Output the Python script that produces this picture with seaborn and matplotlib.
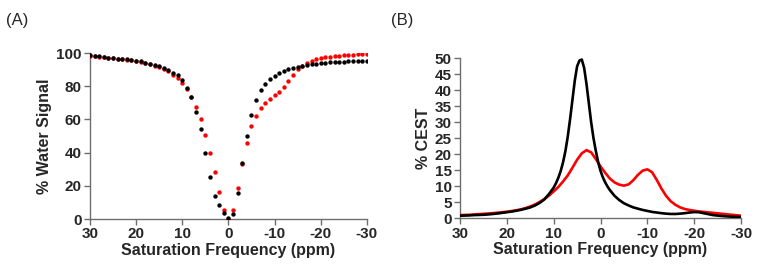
import pandas as pd
import matplotlib.pyplot as plt
import seaborn as sns

# --- DATA ---
# (A) Z-spectra: % water signal vs saturation frequency (ppm), 1 ppm steps
freq_a = list(range(30, -31, -1))
water_black = [98.6, 98.0, 98.0, 97.6, 97.2, 97.0, 96.6, 96.6, 96.2, 96.0,
               95.2, 95.0, 94.2, 93.6, 92.8, 92.0, 91.0, 89.6, 88.0, 86.6,
               83.6, 78.8, 73.2, 64.5, 54.0, 40.0, 25.5, 13.8, 8.4, 3.4,
               0.4,
               3.0, 15.4, 33.5, 49.9, 62.9, 71.9, 77.6, 81.6, 84.4, 86.4,
               88.0, 89.3, 90.3, 91.1, 91.7, 92.2, 92.7, 93.1, 93.5, 93.8,
               94.1, 94.3, 94.5, 94.7, 94.8, 94.9, 95.0, 95.1, 95.1, 95.2]
water_red = [98.2, 97.9, 97.7, 97.4, 97.1, 96.9, 96.6, 96.4, 96.0, 95.6,
             95.0, 94.6, 93.9, 93.2, 92.4, 91.5, 90.3, 89.0, 87.0, 85.2,
             82.0, 78.4, 73.5, 67.5, 60.5, 50.9, 39.9, 28.5, 16.0, 5.6,
             0.3,
             5.6, 18.8, 33.0, 45.9, 55.9, 62.1, 67.1, 69.9, 72.1, 74.5,
             76.8, 79.6, 83.2, 86.8, 90.2, 92.2, 94.0, 95.4, 96.2, 96.8,
             97.3, 97.7, 98.0, 98.3, 98.6, 98.8, 99.0, 99.2, 99.3, 99.4]

# (B) CEST spectra (% CEST)
freq_b_black = [30, 29, 28, 27, 26, 25, 24, 23, 22, 21, 20, 19, 18, 17, 16,
                15, 14, 13, 12, 11, 10, 9.5, 9, 8.5, 8, 7.5, 7, 6.5, 6, 5.5,
                5, 4.5, 4, 3.5, 3, 2.5, 2, 1.5, 1, 0.5, 0, -0.5, -1, -1.5,
                -2, -3, -4, -5, -6, -7, -8, -9, -10, -11, -12, -13, -14,
                -15, -16, -17, -18, -19, -20, -21, -22, -23, -24, -25, -26,
                -27, -28, -29, -30]
cest_black = [0.8, 0.85, 0.9, 1.0, 1.05, 1.1, 1.2, 1.35, 1.5, 1.7, 1.9, 2.1,
              2.35, 2.65, 3.0, 3.4, 4.0, 4.8, 5.9, 7.6, 9.6, 11.0, 12.7,
              14.8, 17.5, 21.0, 25.5, 31.0, 37.0, 43.0, 47.5, 49.3, 49.6,
              47.0, 42.0, 36.0, 30.0, 25.0, 21.0, 17.5, 14.8, 12.8, 11.2,
              9.9, 8.8, 7.0, 5.7, 4.7, 4.0, 3.4, 3.0, 2.6, 2.3, 2.0, 1.8,
              1.6, 1.45, 1.35, 1.35, 1.45, 1.6, 1.8, 1.95, 1.9, 1.6, 1.3,
              1.0, 0.85, 0.7, 0.6, 0.5, 0.45, 0.4]
freq_b_red = list(range(30, -31, -1))
cest_red = [1.0, 1.05, 1.1, 1.2, 1.3, 1.4, 1.5, 1.6, 1.75, 1.9, 2.05, 2.25,
            2.5, 2.8, 3.2, 3.7, 4.3, 5.1, 6.0, 7.1, 8.4, 9.8, 11.5, 13.4,
            15.8, 18.3, 20.3, 21.3, 20.6, 18.5, 16.2, 14.2, 12.4, 11.2,
            10.5, 10.2, 10.6, 11.9, 13.6, 14.9, 15.3, 14.4, 12.0, 9.3, 7.0,
            5.3, 4.2, 3.4, 2.9, 2.6, 2.35, 2.15, 2.0, 1.85, 1.7, 1.55, 1.4,
            1.25, 1.1, 0.95, 0.8]

x_ticks = [30, 20, 10, 0, -10, -20, -30]

df_a = pd.DataFrame({'freq': freq_a, 'black': water_black, 'red': water_red})
df_b_black = pd.DataFrame({'freq': freq_b_black, 'cest': cest_black})
df_b_red = pd.DataFrame({'freq': freq_b_red, 'cest': cest_red})

# --- STYLE ---
sns.set_theme(style="white")
plt.rcParams['font.family'] = ['Liberation Sans', 'DejaVu Sans']
plt.rcParams['axes.unicode_minus'] = False

fig = plt.figure(figsize=(7.62, 2.79), dpi=100)
ax1 = fig.add_axes([0.118, 0.215, 0.3635, 0.595])
ax2 = fig.add_axes([0.6037, 0.2176, 0.3688, 0.5735])

# --- (A) ---
sns.scatterplot(data=df_a, x='freq', y='red', ax=ax1, color='#ff0000',
                s=10, linewidth=0, zorder=3)
sns.scatterplot(data=df_a, x='freq', y='black', ax=ax1, color='black',
                s=10, linewidth=0, zorder=4)
ax1.set_ylim(0, 100)
ax1.set_yticks([0, 20, 40, 60, 80, 100])
ax1.set_ylabel('% Water Signal', fontsize=11.5, fontweight='bold', labelpad=3)

# --- (B) ---
sns.lineplot(data=df_b_red, x='freq', y='cest', ax=ax2, color='#ff0000',
             linewidth=1.9, zorder=3)
sns.lineplot(data=df_b_black, x='freq', y='cest', ax=ax2, color='black',
             linewidth=1.9, zorder=4)
ax2.set_ylim(0, 50)
ax2.set_yticks(list(range(0, 51, 5)))
ax2.set_ylabel('% CEST', fontsize=11.5, fontweight='bold', labelpad=3)

for ax in (ax1, ax2):
    ax.set_xlim(30, -30)
    ax.set_xticks(x_ticks)
    ax.set_xlabel('Saturation Frequency (ppm)', fontsize=11.5, fontweight='bold',
                  labelpad=1)
    for side in ('top', 'right'):
        ax.spines[side].set_visible(False)
    for side in ('left', 'bottom'):
        ax.spines[side].set_color('#6e6e6e')
        ax.spines[side].set_linewidth(1.0)
    ax.tick_params(axis='both', which='major', direction='out', length=4,
                   width=1.0, color='#6e6e6e', labelsize=11, pad=2,
                   left=True, bottom=True)
    for lbl in ax.get_xticklabels() + ax.get_yticklabels():
        lbl.set_fontweight('bold')
    ax.grid(False)

fig.text(0.008, 0.925, '(A)', fontsize=12, ha='left', va='center')
fig.text(0.513, 0.925, '(B)', fontsize=12, ha='left', va='center')

plt.savefig('out.png', dpi=100)
